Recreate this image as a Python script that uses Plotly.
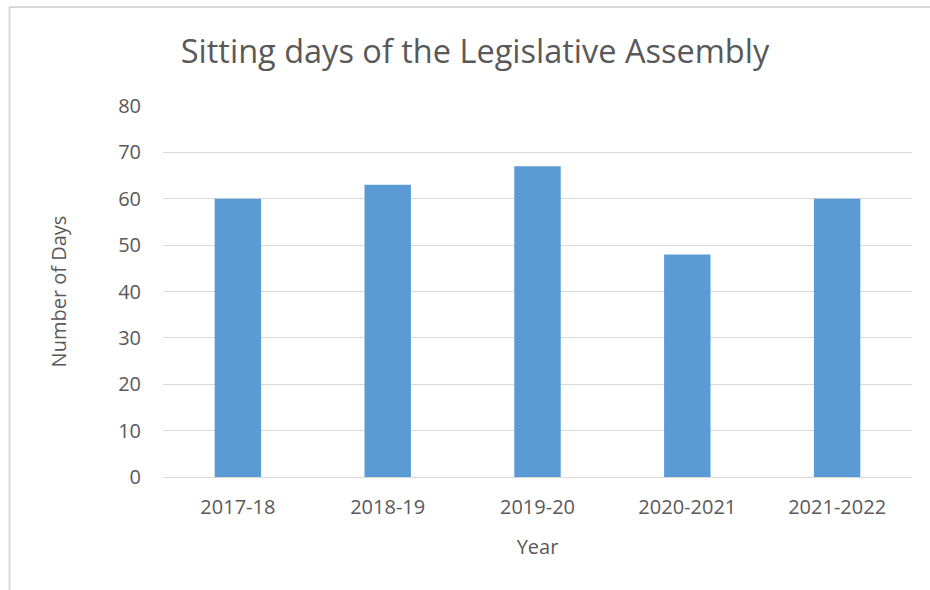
import plotly.graph_objects as go

years = ["2017-18", "2018-19", "2019-20", "2020-2021", "2021-2022"]
days = [60, 63, 67, 48, 60]
y_ticks = [0, 10, 20, 30, 40, 50, 60, 70, 80]

W, H = 930, 590
L, R, T, B = 163, 18, 106, 113
pw, ph = W - L - R, H - T - B

def px(x):
    return (x - L) / pw

def py(y):
    return (H - B - y) / ph

font = "Open Sans"
grey = "#595959"

fig = go.Figure(go.Bar(x=years, y=days, marker=dict(color="#5b9bd5", line=dict(width=0)),
                       width=0.31))

fig.update_layout(
    width=W, height=H,
    margin=dict(l=L, r=R, t=T, b=B),
    paper_bgcolor="white", plot_bgcolor="white",
    font=dict(family=font, color=grey, size=20),
    showlegend=False,
    title=dict(text="Sitting days of the Legislative Assembly", x=475 / W, xanchor="center",
               xref="container", y=1 - 52 / H, yanchor="middle",
               font=dict(family=font, size=32.5, color=grey)),
    xaxis=dict(showgrid=False, showline=False, ticks="", ticklabelstandoff=16,
               tickfont=dict(size=20, color=grey),
               title=dict(text="Year", font=dict(size=20, color=grey), standoff=20)),
    yaxis=dict(range=[0, 80], tickvals=y_ticks, showgrid=True, gridcolor="#d9d9d9",
               gridwidth=1, zeroline=True, zerolinecolor="#d9d9d9", zerolinewidth=1,
               ticks="", ticklabelstandoff=21,
               tickfont=dict(size=20, color=grey),
               title=dict(text="Number of Days", font=dict(size=20, color=grey), standoff=46)),
    shapes=[
        dict(type="line", xref="paper", yref="paper", x0=px(9.5), x1=px(9.5), y0=py(7), y1=py(600),
             line=dict(color="#d9d9d9", width=2)),
        dict(type="line", xref="paper", yref="paper", x0=px(9.5), x1=px(940), y0=py(7), y1=py(7),
             line=dict(color="#d9d9d9", width=2)),
    ],
)

fig.write_html("out.html")
